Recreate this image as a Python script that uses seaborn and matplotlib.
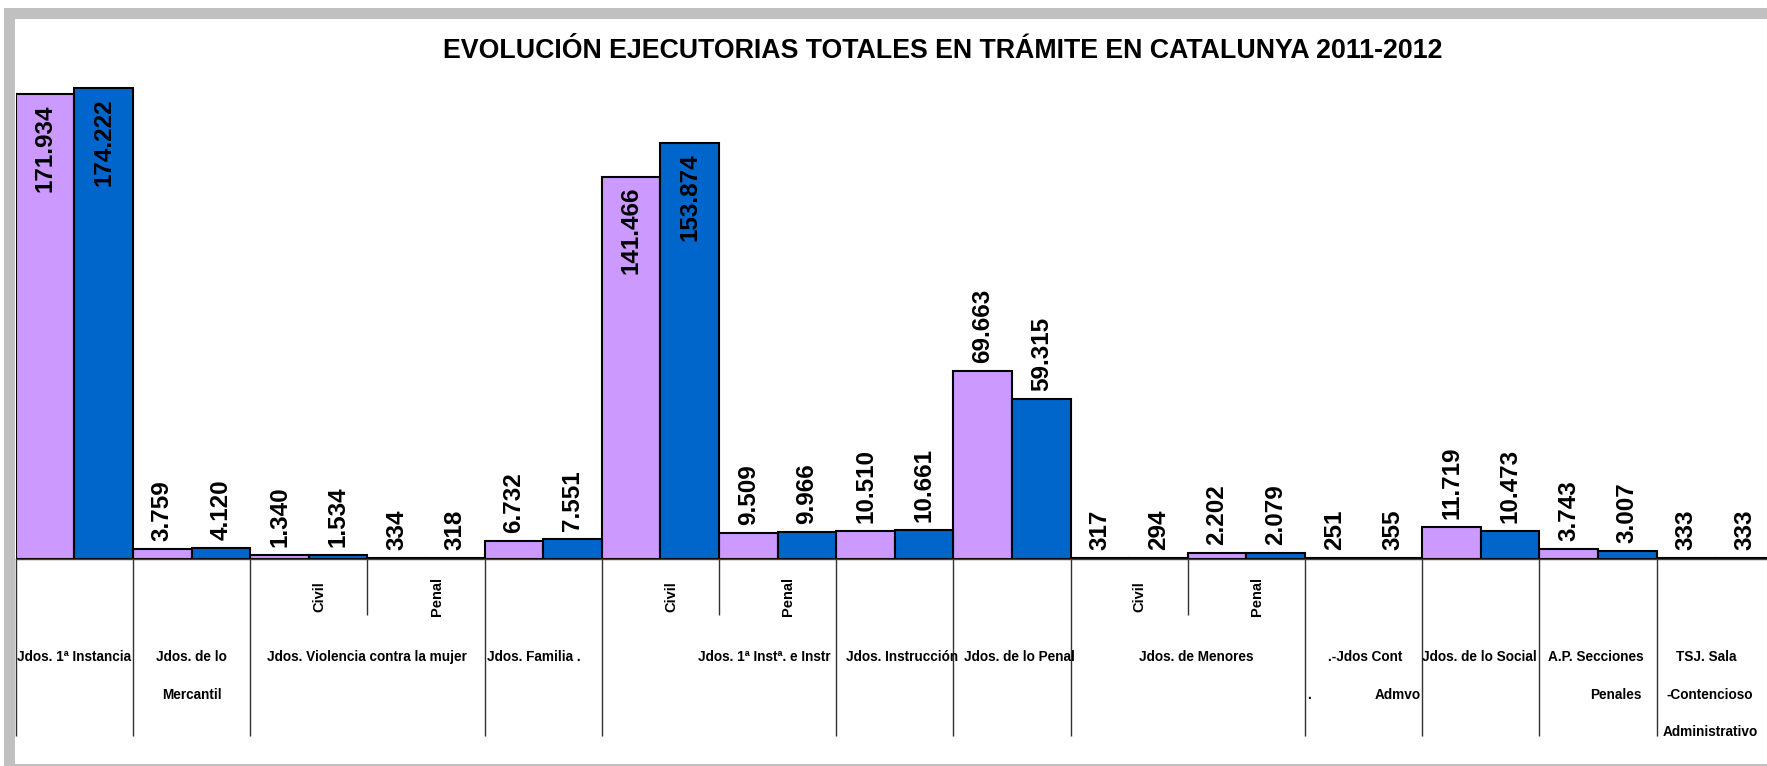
import pandas as pd
import matplotlib
matplotlib.use("Agg")
import matplotlib.pyplot as plt
import matplotlib.transforms as mtransforms
from matplotlib.patches import Rectangle
import seaborn as sns

# datos (ejecutorias en trámite)
categorias = ["1a Instancia", "Mercantil", "VM Civil", "VM Penal", "Familia",
              "1a Inst e Instr Civil", "1a Inst e Instr Penal", "Instruccion",
              "Penal", "Menores Civil", "Menores Penal", "Cont Admvo",
              "Social", "AP Penales", "TSJ Cont Admvo"]
valores_2011 = [171934, 3759, 1340, 334, 6732, 141466, 9509, 10510,
                69663, 317, 2202, 251, 11719, 3743, 333]
valores_2012 = [174222, 4120, 1534, 318, 7551, 153874, 9966, 10661,
                59315, 294, 2079, 355, 10473, 3007, 333]
anios = ["2011", "2012"]
colores = ["#CC99FF", "#0066CC"]

titulo = "EVOLUCIÓN EJECUTORIAS TOTALES EN TRÁMITE EN CATALUNYA 2011-2012"
subetiquetas = ["Civil", "Penal", "Civil", "Penal", "Civil", "Penal"]
etiquetas_grupo = ["Jdos. 1ª Instancia", "Jdos. de lo", "Mercantil",
                   "Jdos. Violencia contra la mujer", "Jdos. Familia .",
                   "Jdos. 1ª Instª. e Instr", "Jdos. Instrucción",
                   "Jdos. de lo Penal", "Jdos. de Menores", ".-Jdos Cont", ".",
                   "Admvo", "Jdos. de lo Social", "A.P. Secciones", "Penales",
                   "TSJ. Sala", "-Contencioso", "Administrativo"]

df = pd.DataFrame({
    "categoria": categorias * 2,
    "anio": [anios[0]] * len(categorias) + [anios[1]] * len(categorias),
    "valor": valores_2011 + valores_2012,
})

sns.set_style("white")
plt.rcParams["font.family"] = ["Liberation Sans", "DejaVu Sans"]
plt.rcParams["text.color"] = "black"

W, H = 1767, 766
fig = plt.figure(figsize=(W / 100, H / 100), dpi=100)

# marco gris
fig.patches.append(Rectangle((4 / W, 0), 1, 1 - 8 / H, transform=fig.transFigure,
                             facecolor="#C0C0C0", edgecolor="none", zorder=-10))
fig.patches.append(Rectangle((14.5 / W, 2 / H), 1, 1 - 21 / H, transform=fig.transFigure,
                             facecolor="white", edgecolor="none", zorder=-9))

base_px = 559
ax_h_px = 540.5
ax = fig.add_axes([15.8 / W, (H - base_px) / H, 15 * 117.2 / W, ax_h_px / H])
ax.set_facecolor("none")

sns.barplot(data=df, x="categoria", y="valor", hue="anio", order=categorias,
            palette=colores, width=1.0, saturation=1, edgecolor="black",
            linewidth=1.5, legend=False, ax=ax)

ax.set_xlim(-0.5, 14.5)
ax.set_ylim(0, 200000)
ax.set_xticks([])
ax.set_yticks([])
ax.set_xlabel("")
ax.set_ylabel("")
for s in ["top", "left", "right"]:
    ax.spines[s].set_visible(False)
ax.spines["bottom"].set_color("#404040")
ax.spines["bottom"].set_linewidth(1)

# etiquetas de valores
for cont in ax.containers:
    for bar in cont:
        v = bar.get_height()
        x = bar.get_x() + bar.get_width() / 2
        txt = f"{int(round(v)):,}".replace(",", ".")
        if v > 100000:
            ax.annotate(txt, (x, v), xytext=(0, -10), textcoords="offset pixels",
                        rotation=90, ha="center", va="top", fontsize=17.5,
                        fontweight="bold", annotation_clip=False)
        else:
            ax.annotate(txt, (x, v), xytext=(0, 8), textcoords="offset pixels",
                        rotation=90, ha="center", va="bottom", fontsize=17.5,
                        fontweight="bold", annotation_clip=False)

# lineas de la tabla de categorias
xt = ax.get_xaxis_transform()
largas = [0, 1, 2, 4, 5, 7, 8, 9, 11, 12, 13, 14, 15]
cortas = [3, 6, 10]
ax.vlines([b - 0.5 for b in largas], -177 / ax_h_px, 0, transform=xt,
          colors="#303030", linewidth=1, clip_on=False)
ax.vlines([b - 0.5 for b in cortas], -56 / ax_h_px, 0, transform=xt,
          colors="#303030", linewidth=1, clip_on=False)


def texto(x, dy, s, **kw):
    tr = mtransforms.offset_copy(xt, fig=fig, x=0, y=-dy, units="dots")
    ax.text(x, 0, s, transform=tr, clip_on=False, fontweight="bold", **kw)


# subetiquetas Civil / Penal
for x, s in zip([2, 3, 5, 6, 9, 10], subetiquetas):
    texto(x + 0.09, 38, s, rotation=90, ha="center", va="center", fontsize=10.5)

# etiquetas de grupo
l1, l2, l3 = 98, 136, 173
pos = [(0.0, l1), (1.0, l1), (1.0, l2), (2.5, l1), (3.92, l1), (5.89, l1),
       (7.06, l1), (8.06, l1), (9.57, l1), (11.01, l1), (10.53, l2),
       (11.29, l2), (11.99, l1), (12.98, l1), (13.15, l2), (13.92, l1),
       (13.95, l2), (13.96, l3)]
for (x, dy), s in zip(pos, etiquetas_grupo):
    texto(x, dy, s, ha="center", va="center", fontsize=9.8)

fig.text(943 / W, 1 - 51 / H, titulo, ha="center", va="center", fontsize=19.3,
         fontweight="bold")

fig.savefig("out.png", dpi=100)
